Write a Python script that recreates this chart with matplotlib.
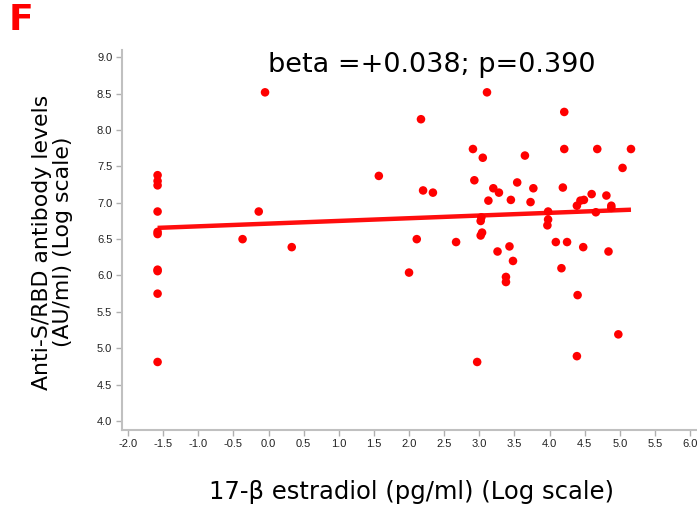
import matplotlib
matplotlib.use("Agg")
import matplotlib.pyplot as plt
import numpy as np

# Data: log estradiol (x) vs log anti-S/RBD antibody levels (y)
estradiol_log = [
    -1.58, -1.58, -1.58, -1.58, -1.58, -1.58, -1.58, -1.58, -1.58, -1.58,
    -0.05, -0.14, -0.37, 0.33, 1.57, 2.00, 2.11, 2.17, 2.20, 2.34, 2.67,
    2.91, 2.93, 2.97, 3.02, 3.03, 3.04, 3.02, 3.05, 3.11, 3.13, 3.20,
    3.26, 3.28, 3.38, 3.38, 3.43, 3.45, 3.48, 3.54, 3.65, 3.73, 3.77,
    3.98, 3.98, 3.97, 4.09, 4.17, 4.19, 4.21, 4.21, 4.25, 4.39, 4.40,
    4.39, 4.44, 4.48, 4.49, 4.60, 4.66, 4.68, 4.81, 4.84, 4.88, 4.88,
    4.98, 5.04, 5.16,
]
antibody_log = [
    7.38, 7.30, 7.24, 6.88, 6.60, 6.57, 6.08, 6.06, 5.75, 4.81,
    8.52, 6.88, 6.50, 6.39, 7.37, 6.04, 6.50, 8.15, 7.17, 7.14, 6.46,
    7.74, 7.31, 4.81, 6.75, 6.80, 6.59, 6.55, 7.62, 8.52, 7.03, 7.20,
    6.33, 7.14, 5.98, 5.91, 6.40, 7.04, 6.20, 7.28, 7.65, 7.01, 7.20,
    6.88, 6.77, 6.69, 6.46, 6.10, 7.21, 8.25, 7.74, 6.46, 6.96, 5.73,
    4.89, 7.03, 6.39, 7.04, 7.12, 6.87, 7.74, 7.10, 6.33, 6.96, 6.93,
    5.19, 7.48, 7.74,
]
# Regression line (beta = +0.038)
fit_x = [-1.58, 5.16]
fit_y = [6.655, 6.905]

x_ticks = [-2.0, -1.5, -1.0, -0.5, 0.0, 0.5, 1.0, 1.5, 2.0, 2.5, 3.0, 3.5, 4.0, 4.5, 5.0, 5.5, 6.0]
y_ticks = [4.0, 4.5, 5.0, 5.5, 6.0, 6.5, 7.0, 7.5, 8.0, 8.5, 9.0]

annotation = "beta =+0.038; p=0.390"
panel_letter = "F"
x_label = "17-\u03b2 estradiol (pg/ml) (Log scale)"
y_label = "Anti-S/RBD antibody levels\n(AU/ml) (Log scale)"

fig = plt.figure(figsize=(6.97, 5.12), dpi=100)
ax = fig.add_axes([0.175, 0.161, 0.825, 0.741])

ax.scatter(estradiol_log, antibody_log, s=38, color="#ff0000", edgecolors="none", zorder=3)
ax.plot(fit_x, fit_y, color="#ff0000", lw=3.2, solid_capstyle="butt", zorder=2, alpha=0.95)

ax.set_xlim(-2.087, 6.1)
ax.set_ylim(3.88, 9.10)
ax.set_xticks(x_ticks)
ax.set_yticks(y_ticks)
tick_font = ["Liberation Sans Narrow", "Liberation Sans", "DejaVu Sans"]
ax.set_xticklabels([f"{v:.1f}" for v in x_ticks], family=tick_font, fontsize=8, color="#222222")
ax.set_yticklabels([f"{v:.1f}" for v in y_ticks], family=tick_font, fontsize=8, color="#222222")
ax.tick_params(axis="both", direction="out", length=4, width=1, color="#b0b0b0", pad=3)

for side in ["top", "right"]:
    ax.spines[side].set_visible(False)
for side in ["left", "bottom"]:
    ax.spines[side].set_color("#c0c0c0")
    ax.spines[side].set_linewidth(1.5)

fig.text(0.62, 0.873, annotation, fontsize=19.5, ha="center", va="center", color="black",
         family="DejaVu Sans")
fig.text(0.012, 0.96, panel_letter, fontsize=26, fontweight="bold", color="#ff0000",
         ha="left", va="center", family="DejaVu Sans")
fig.text(0.59, 0.039, x_label, fontsize=17.5, ha="center", va="center", family="DejaVu Sans")
fig.text(0.075, 0.527, y_label, fontsize=15.8, ha="center", va="center", rotation=90,
         family="DejaVu Sans", linespacing=1.05)

fig.savefig("out.png", dpi=100)
